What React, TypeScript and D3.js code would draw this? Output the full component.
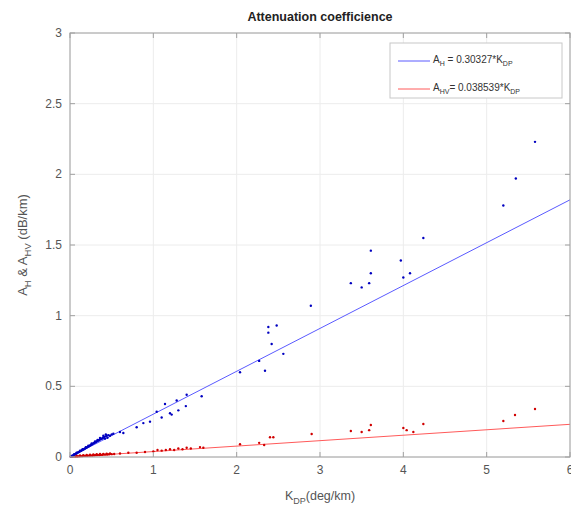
import React from "react";
import * as d3 from "d3";

const W = 571, H = 512;
const xTicks = [0, 1, 2, 3, 4, 5, 6];
const yTicks = [0, 0.5, 1, 1.5, 2, 2.5, 3];
const slopeH = 0.30327;
const slopeHV = 0.038539;

// A_H scatter (KDP, AH)
const ahX = [0.01,0.02,0.03,0.04,0.05,0.06,0.07,0.08,0.09,0.1,0.11,0.12,0.13,0.14,0.15,0.16,0.17,0.18,0.19,0.2,0.21,0.22,0.23,0.24,0.25,0.26,0.27,0.28,0.29,0.3,0.31,0.32,0.33,0.34,0.35,0.36,0.37,0.38,0.39,0.4,0.41,0.42,0.43,0.44,0.45,0.46,0.48,0.5,0.52,
  0.05,0.08,0.12,0.15,0.19,0.22,0.26,0.3,0.33,0.36,0.4,0.43,
  0.6,0.64,0.8,0.88,0.96,1.04,1.1,1.14,1.2,1.22,1.28,1.3,1.4,1.39,1.58,
  2.04,2.27,2.34,2.38,2.38,2.42,2.48,2.56,2.89,3.37,3.5,3.59,3.61,3.61,3.97,4.0,4.08,4.24,5.2,5.35,5.58];
const ahY = [0.004,0.007,0.01,0.013,0.017,0.02,0.023,0.027,0.03,0.034,0.036,0.04,0.043,0.047,0.05,0.053,0.057,0.06,0.064,0.067,0.07,0.074,0.077,0.081,0.085,0.088,0.092,0.095,0.1,0.103,0.106,0.11,0.114,0.116,0.12,0.123,0.128,0.13,0.133,0.138,0.141,0.13,0.146,0.15,0.136,0.155,0.15,0.16,0.165,
  0.02,0.03,0.045,0.055,0.07,0.08,0.095,0.11,0.12,0.135,0.15,0.16,
  0.177,0.17,0.21,0.24,0.25,0.32,0.28,0.375,0.31,0.3,0.4,0.33,0.44,0.36,0.43,
  0.6,0.68,0.61,0.92,0.88,0.8,0.93,0.73,1.07,1.23,1.2,1.23,1.46,1.3,1.39,1.27,1.3,1.55,1.78,1.97,2.23];

// A_HV scatter (KDP, AHV)
const ahvX = [0.01,0.03,0.05,0.07,0.09,0.11,0.13,0.15,0.17,0.19,0.21,0.23,0.25,0.27,0.29,0.31,0.33,0.35,0.37,0.39,0.41,0.43,0.45,0.47,0.5,0.53,
  0.04,0.08,0.12,0.16,0.2,0.24,0.28,0.32,0.36,0.4,0.44,0.48,
  0.6,0.7,0.8,0.9,1.0,1.05,1.1,1.15,1.2,1.25,1.3,1.35,1.4,1.45,1.56,1.6,
  2.04,2.27,2.33,2.4,2.44,2.9,3.37,3.5,3.59,3.61,4.0,4.04,4.12,4.24,5.2,5.34,5.58];
const ahvY = [0.001,0.002,0.003,0.004,0.004,0.005,0.006,0.007,0.008,0.008,0.009,0.01,0.011,0.011,0.012,0.013,0.014,0.014,0.015,0.016,0.017,0.017,0.018,0.019,0.02,0.021,
  0.006,0.009,0.011,0.012,0.014,0.016,0.018,0.02,0.021,0.022,0.024,0.025,
  0.025,0.03,0.03,0.035,0.04,0.05,0.045,0.05,0.055,0.05,0.06,0.055,0.065,0.06,0.07,0.065,
  0.09,0.1,0.085,0.14,0.14,0.163,0.184,0.177,0.19,0.226,0.205,0.19,0.177,0.233,0.255,0.297,0.34];

export default function App() {
  const m = { l: 70, r: 570, t: 33, b: 457 };
  const x = d3.scaleLinear().domain([0, 6]).range([m.l, m.r]);
  const y = d3.scaleLinear().domain([0, 3]).range([m.b, m.t]);
  const font = "'Liberation Sans', Arial, Helvetica, sans-serif";
  const axisCol = "#a0a0a0";
  const textCol = "#555";
  return (
    <svg width={W} height={H} style={{ position: "absolute", left: 0, top: 0, background: "#fff" }} fontFamily={font}>
      <rect x={0} y={0} width={W} height={H} fill="#fff" />
      {xTicks.map((t) => (
        <line key={"gx" + t} x1={x(t)} x2={x(t)} y1={m.t} y2={m.b} stroke="#ececec" strokeWidth={1} />
      ))}
      {yTicks.map((t) => (
        <line key={"gy" + t} x1={m.l} x2={m.r} y1={y(t)} y2={y(t)} stroke="#ececec" strokeWidth={1} />
      ))}
      <path d={`M${x(0)},${y(0)}L${x(6)},${y(slopeH * 6)}`} stroke="#5a5aff" strokeWidth={1} fill="none" />
      <path d={`M${x(0)},${y(0)}L${x(6)},${y(slopeHV * 6)}`} stroke="#ff5a5a" strokeWidth={1} fill="none" />
      {ahvX.map((v, i) => (
        <circle key={"r" + i} cx={x(v)} cy={y(ahvY[i])} r={1.2} fill="#d00000" />
      ))}
      {ahX.map((v, i) => (
        <circle key={"b" + i} cx={x(v)} cy={y(ahY[i])} r={1.2} fill="#0000c0" />
      ))}
      <rect x={m.l} y={m.t} width={m.r - m.l} height={m.b - m.t} fill="none" stroke={axisCol} strokeWidth={1} />
      {xTicks.map((t) => (
        <g key={"tx" + t}>
          <line x1={x(t)} x2={x(t)} y1={m.b} y2={m.b - 5} stroke={axisCol} />
          <line x1={x(t)} x2={x(t)} y1={m.t} y2={m.t + 5} stroke={axisCol} />
          <text x={x(t)} y={m.b + 17} textAnchor="middle" fontSize={12} fill={textCol}>{t}</text>
        </g>
      ))}
      {yTicks.map((t) => (
        <g key={"ty" + t}>
          <line x1={m.l} x2={m.l + 5} y1={y(t)} y2={y(t)} stroke={axisCol} />
          <line x1={m.r} x2={m.r - 5} y1={y(t)} y2={y(t)} stroke={axisCol} />
          <text x={m.l - 8} y={y(t) + 4} textAnchor="end" fontSize={12} fill={textCol}>{t}</text>
        </g>
      ))}
      <text x={(m.l + m.r) / 2} y={21} textAnchor="middle" fontSize={12.5} fontWeight="bold" fill="#222">Attenuation coefficience</text>
      <text x={(m.l + m.r) / 2} y={500} textAnchor="middle" fontSize={12.5} fill={textCol}>
        K<tspan fontSize={9} dy={4}>DP</tspan><tspan dy={-4}>(deg/km)</tspan>
      </text>
      <text transform={`translate(27,${(m.t + m.b) / 2}) rotate(-90)`} textAnchor="middle" fontSize={13} fill={textCol}>
        A<tspan fontSize={9.5} dy={4}>H</tspan><tspan dy={-4}> &amp; A</tspan><tspan fontSize={9.5} dy={4}>HV</tspan><tspan dy={-4}> (dB/km)</tspan>
      </text>
      <rect x={390} y={43} width={172} height={55} fill="#fff" stroke="#c8c8c8" strokeWidth={1} />
      <line x1={398} x2={430} y1={61} y2={61} stroke="#5a5aff" />
      <line x1={398} x2={430} y1={89} y2={89} stroke="#ff5a5a" />
      <text x={433} y={63} fontSize={10} fill="#333">
        A<tspan fontSize={7} dy={3}>H</tspan><tspan dy={-3}> = 0.30327*K</tspan><tspan fontSize={7} dy={3}>DP</tspan>
      </text>
      <text x={433} y={91} fontSize={10} fill="#333">
        A<tspan fontSize={7} dy={3}>HV</tspan><tspan dy={-3}>= 0.038539*K</tspan><tspan fontSize={7} dy={3}>DP</tspan>
      </text>
    </svg>
  );
}
